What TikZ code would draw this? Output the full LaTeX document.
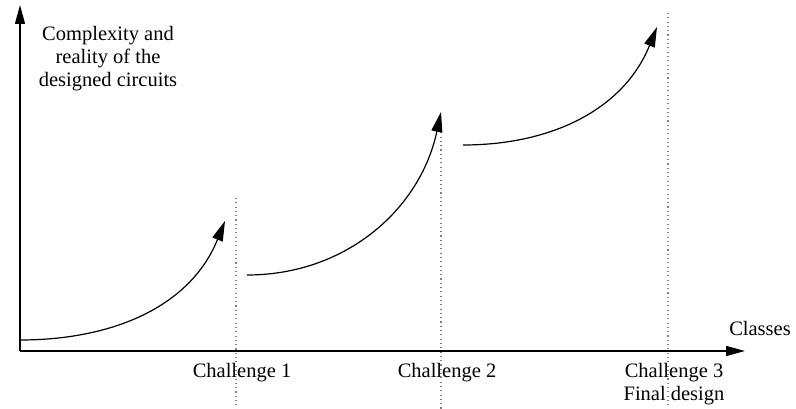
\documentclass[tikz,border=0pt]{standalone}
\usepackage{fontspec}
\setmainfont{Liberation Serif}
\usepackage{tikz}
\usetikzlibrary{arrows.meta,positioning}
\tikzset{axisline/.style={line width=1.4pt,-{Triangle[length=19pt,width=10pt]}},
    growcurve/.style={line width=1.2pt,-{Triangle[length=20pt,width=11pt]}},
    dottedline/.style={gray,line width=1.1pt,dash pattern=on 1.1pt off 3.2pt},
    labeltext/.style={font=\fontsize{20.5}{23}\selectfont,inner sep=0,align=center}
}
\newcommand{\challengemark}[4]
{
% args: (name, x of dotted line, y of its top end, text below the axis)
    \coordinate (#1top) at (#2,#3);
    \coordinate (#1bot) at (#2,-58);
    \draw [dottedline] (#1top) -- (#1bot);
    \node (#1) [labeltext,anchor=north] at ([xshift=6pt]#2,-12) {#4};
}
\begin{document}
\begin{tikzpicture}[x=1pt,y=1pt]
\useasboundingbox (-20,-58) rectangle (776,351);

% axes
\coordinate (origin) at (0,0);
\coordinate (ytip) at (0,346);
\coordinate (xtip) at (725,0);
\draw [axisline] (origin) -- (ytip);
\draw [axisline] (origin) -- (xtip);

\node (ylabel) [labeltext] at (88,292) {Complexity and\\reality of the\\designed circuits};
\node (xlabel) [labeltext] at (740,23) {Classes};

% challenges
\challengemark{chA}{216}{153}{Challenge 1}
\challengemark{chB}{421}{223}{Challenge 2}
\challengemark{chC}{648}{338}{Challenge 3\\Final design}

% growth curves
\coordinate (startA) at (0,11);
\coordinate (endA) at (205,130);
\coordinate (startB) at (227,76);
\coordinate (endB) at (421,239);
\coordinate (startC) at (443,206);
\coordinate (endC) at (637,324);

\draw [growcurve] (startA) to [out=0,in=-112] (endA);
\draw [growcurve] (startB) to [out=0,in=-102] (endB);
\draw [growcurve] (startC) to [out=0,in=-112] (endC);

\end{tikzpicture}
\end{document}
